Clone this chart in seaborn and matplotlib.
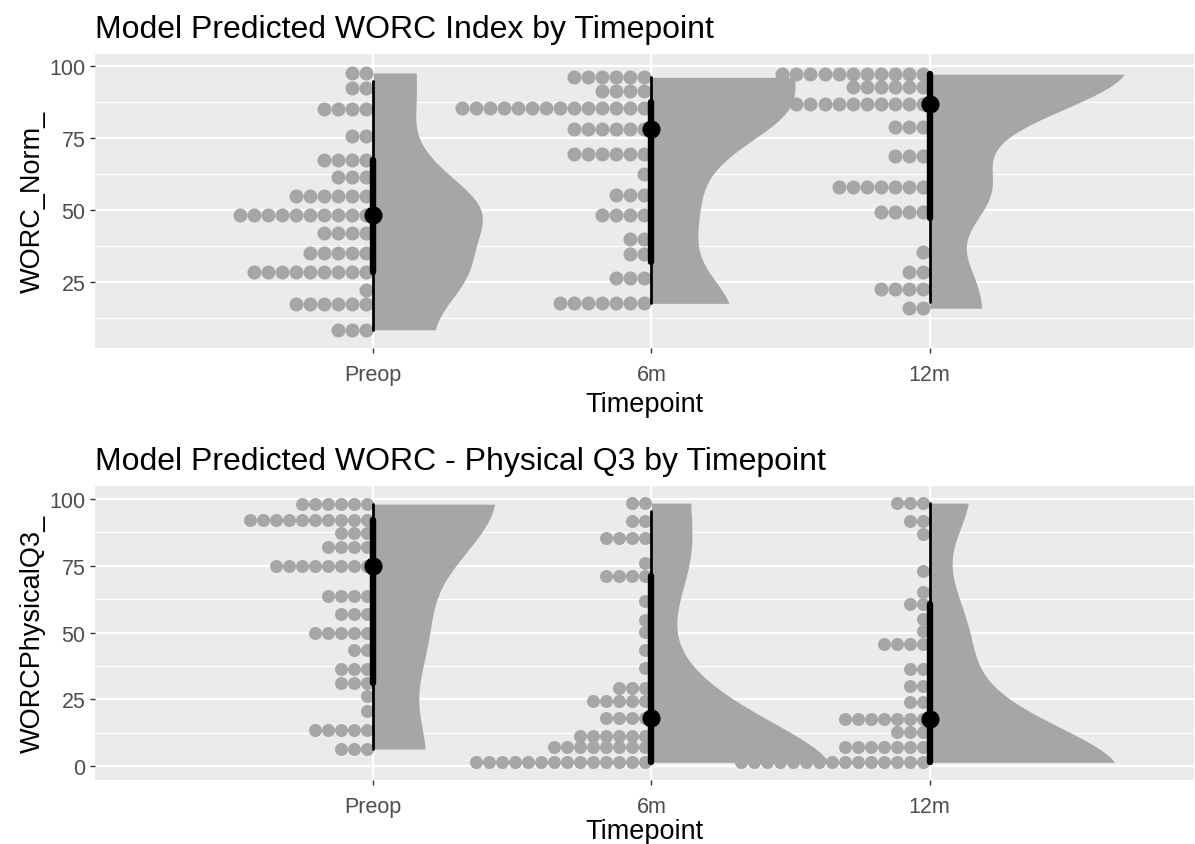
import numpy as np
import pandas as pd
import seaborn as sns
import matplotlib.pyplot as plt
from matplotlib.ticker import MultipleLocator

timepoints = ["Preop", "6m", "12m"]

# dot rows: value of the row, number of dots in it
# top panel - WORC index
worc_preop_vals = [97.6, 92.3, 85.1, 75.6, 67.4, 61.6, 55.0, 48.3, 42.2, 35.0, 28.4, 22.2, 17.4, 8.4]
worc_preop_counts = [2, 2, 4, 2, 4, 3, 6, 10, 4, 5, 9, 1, 6, 3]
worc_6m_vals = [96.1, 91.4, 85.6, 78.1, 69.4, 62.7, 55.2, 48.4, 39.9, 34.7, 26.4, 17.6]
worc_6m_counts = [6, 4, 14, 6, 6, 1, 3, 4, 2, 2, 3, 7]
worc_12m_vals = [97.2, 92.6, 86.8, 78.7, 68.9, 57.9, 49.5, 35.6, 28.4, 22.6, 15.9]
worc_12m_counts = [11, 6, 10, 3, 3, 7, 4, 1, 2, 4, 2]

# bottom panel - WORC physical Q3
phys_preop_vals = [98.1, 92.2, 87.3, 81.9, 74.8, 63.6, 56.9, 49.8, 43.6, 36.3, 31.3, 26.1, 20.7, 13.6, 6.4]
phys_preop_counts = [6, 10, 3, 4, 8, 4, 3, 5, 2, 3, 3, 1, 1, 5, 3]
phys_6m_vals = [98.5, 91.9, 85.3, 76.0, 71.3, 61.7, 54.7, 50.1, 43.6, 36.7, 29.2, 24.5, 17.9, 11.3, 7.2, 1.4]
phys_6m_counts = [2, 2, 4, 1, 4, 1, 1, 1, 1, 1, 3, 5, 4, 6, 8, 14]
phys_12m_vals = [98.5, 91.9, 86.9, 73.2, 65.3, 60.7, 55.1, 50.7, 45.7, 36.3, 30.1, 24.1, 17.6, 12.8, 7.2, 1.4]
phys_12m_counts = [3, 2, 1, 1, 1, 2, 1, 1, 4, 2, 2, 2, 7, 3, 7, 15]

sns.set_theme(style="darkgrid")
plt.rcParams["font.family"] = ["Liberation Sans", "DejaVu Sans"]

GREY = "#A6A6A6"
BINW = 4.87      # dot size in data units
ADJUST = 1.0
EDGE = 0.3       # reflection bounds sit this many bandwidths past the data


def make_df(vals_list, counts_list):
    parts = []
    for tp, v, c in zip(timepoints, vals_list, counts_list):
        parts.append(pd.DataFrame({"Timepoint": tp, "value": np.repeat(v, c)}))
    return pd.concat(parts, ignore_index=True)


def bounded_kde(x, grid, adjust):
    sd = x.std(ddof=1)
    iqr = np.subtract(*np.percentile(x, [75, 25])) / 1.34
    bw = 0.9 * min(sd, iqr) * len(x) ** -0.2 * adjust
    lo, hi = x.min() - EDGE * bw, x.max() + EDGE * bw
    pts = np.concatenate([x, 2 * lo - x, 2 * hi - x])
    z = (grid[:, None] - pts[None, :]) / bw
    return np.exp(-0.5 * z ** 2).sum(1) / (len(x) * bw * np.sqrt(2 * np.pi))


def draw_panel(ax, df, ylim, ylabel, title, slab_max, xlabelpad):
    ax.set_xlim(-1.0, 2.95)
    ax.set_ylim(*ylim)

    # dot size from the data->pixel transform
    p0 = ax.transData.transform((0, 0))
    p1 = ax.transData.transform((1, BINW))
    d_px = p1[1] - p0[1]
    step = d_px / (p1[0] - p0[0])
    s = (d_px * 72 / fig.dpi) ** 2

    dens = {}
    for i, tp in enumerate(timepoints):
        x = df.loc[df.Timepoint == tp, "value"].to_numpy()
        grid = np.linspace(x.min(), x.max(), 400)
        dens[tp] = (grid, bounded_kde(x, grid, ADJUST))
        # dots stacked to the left of the category
        xs, ys = [], []
        for v in np.unique(x):
            n = (x == v).sum()
            xs += list(i - step * (np.arange(n) + 0.5))
            ys += [v] * n
        ax.scatter(xs, ys, s=s, color=GREY, lw=0, zorder=2)

    top = max(d.max() for g, d in dens.values())
    for i, tp in enumerate(timepoints):
        g, d = dens[tp]
        ax.fill_betweenx(g, i, i + d / top * slab_max, color=GREY, lw=0, zorder=2.5)

    sns.pointplot(data=df, x="Timepoint", y="value", order=timepoints, estimator="median",
                  errorbar=("pi", 95), color="black", linestyle="none", markersize=0,
                  err_kws={"linewidth": 2.0, "zorder": 4}, ax=ax)
    sns.pointplot(data=df, x="Timepoint", y="value", order=timepoints, estimator="median",
                  errorbar=("pi", 66), color="black", linestyle="none", marker="o",
                  markersize=11, err_kws={"linewidth": 4.6, "zorder": 4}, zorder=5, ax=ax)

    ax.set_xticks(range(3))
    ax.set_xticklabels(timepoints)
    ax.set_yticks([t for t in [0, 25, 50, 75, 100] if ylim[0] <= t <= ylim[1]])
    ax.yaxis.set_minor_locator(MultipleLocator(12.5))
    ax.set_xlim(-1.0, 2.95)
    ax.set_ylim(*ylim)
    ax.set_facecolor("#EBEBEB")
    ax.grid(True, which="major", color="white", lw=1.6)
    ax.grid(True, which="minor", axis="y", color="white", lw=0.8)
    ax.tick_params(which="major", bottom=True, left=True, length=3.8, width=1.0,
                   color="#333333", labelcolor="#4D4D4D", labelsize=15.5)
    ax.tick_params(axis="x", pad=7.5)
    ax.tick_params(axis="y", pad=3)
    ax.tick_params(which="minor", length=0)
    for sp in ax.spines.values():
        sp.set_visible(False)
    ax.set_xlabel("Timepoint", fontsize=19.5, color="black", labelpad=xlabelpad)
    ax.set_ylabel(ylabel, fontsize=19.5, color="black", labelpad=2.5)
    ax.set_title(title, loc="left", fontsize=23, color="black", pad=12)


fig = plt.figure(figsize=(11.95, 8.45), dpi=100)
fig.patch.set_facecolor("white")
ax1 = fig.add_axes([95 / 1195, 1 - 349 / 845, 1099 / 1195, 294 / 845])
ax2 = fig.add_axes([95 / 1195, 1 - 781 / 845, 1099 / 1195, 294 / 845])

worc = make_df([worc_preop_vals, worc_6m_vals, worc_12m_vals],
               [worc_preop_counts, worc_6m_counts, worc_12m_counts])
phys = make_df([phys_preop_vals, phys_6m_vals, phys_12m_vals],
               [phys_preop_counts, phys_6m_counts, phys_12m_counts])

draw_panel(ax1, worc, (2.1, 104.2), "WORC_Norm_", "Model Predicted WORC Index by Timepoint", 0.70, 4.5)
draw_panel(ax2, phys, (-5.2, 104.9), "WORCPhysicalQ3_", "Model Predicted WORC - Physical Q3 by Timepoint", 0.665, 1.0)

plt.savefig("out.png", dpi=100)
